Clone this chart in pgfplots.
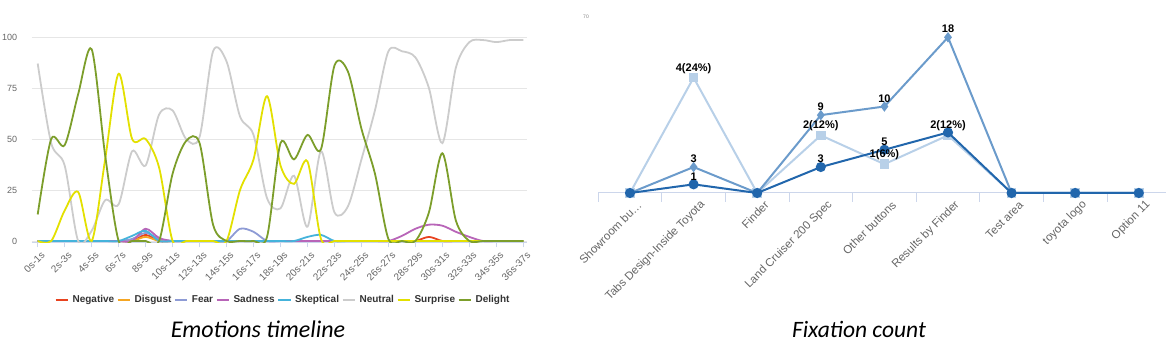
\documentclass[border=0pt]{standalone}
\usepackage{pgfplots}
\pgfplotsset{compat=1.18}
\usepackage{pgfplotstable}
\usepackage{fontspec}
\setmainfont{Liberation Sans}
\newfontfamily\carlito{Carlito}

\definecolor{cNeg}{HTML}{E8431F}
\definecolor{cDis}{HTML}{F5A623}
\definecolor{cFear}{HTML}{8E9BD5}
\definecolor{cSad}{HTML}{B865B8}
\definecolor{cSkep}{HTML}{45B3DB}
\definecolor{cNeu}{HTML}{CCCCCC}
\definecolor{cSur}{HTML}{E3E000}
\definecolor{cDel}{HTML}{7C9E2B}
\definecolor{axisc}{HTML}{CCD6EB}
\definecolor{gridc}{HTML}{E6E6E6}
\definecolor{lab}{HTML}{666666}
\definecolor{fLight}{HTML}{B8D0E8}
\definecolor{fMed}{HTML}{6B9BCB}
\definecolor{fDark}{HTML}{2166AC}

\pgfplotstableread{
t neg dis fear sad skep neu sur del
0 0 0 0 0 0 87 0 13
1 0 0 0 0 0 48 0 50
2 0 0 0 0 0 37 15 47
3 0 0 0 0 0 0 24 72
4 0 0 0 0 0 5 0 94
5 0 0 0 0 0 20 40 42
6 0 0 0 0 0 18 82 0
7 0 0 1 0 2.5 44 50 0
8 3 2 4 6 5 37 50 0
9 0 0 1 1.5 0 62 36 0
10 0 0 0 0 0 64 0 33
11 0 0 0 0 0 50 0 49
12 0 0 0 0 0 51 0 48
13 0 0 0 0 0 93 0 8
14 0 0 0 0 0 88 0 0
15 0 0 6 0 0 61 25 0
16 0 0 4.5 0 0 52 40 0
17 0 0 0 0 0 21 71 2
18 0 0 0 0 0 16 37 48
19 0 0 0 0 0 32 28 40
20 0 0 0 0 2 7 39 52
21 0 0 0 0 3 44 1 45
22 0 0 0 0 0 14 0 86
23 0 0 0 0 0 17 0 83
24 0 0 0 0 0 40 0 55
25 0 0 0 0 0 64 0 33
26 0 0 0 0 0 93 0 1
27 0 0 0 2.5 0 93 0 0
28 0 0 0 6 0 90 0 0
29 2 0 0 8 0 75 0 14
30 0 0 0 7.5 0 48 0 43
31 0 0 0 4.5 0 85 0 10
32 0 0 0 2 0 97.5 0 0
33 0 0 0 0 0 98.5 0 0
34 0 0 0 0 0 97.5 0 0
35 0 0 0 0 0 98.5 0 0
36 0 0 0 0 0 98.5 0 0
}\emo

\pgfplotstableread{
c light med dark
0 0 0 0
1 4 3 1
2 0 0 0
3 2 9 3
4 1 10 5
5 2 18 7
6 0 0 0
7 0 0 0
8 0 0 0
}\fix

\begin{document}
\begin{tikzpicture}
\useasboundingbox (0,0) rectangle (1167pt,355pt);

% ---------------- Emotions timeline ----------------
\begin{axis}[
  at={(31.7pt,112.57pt)}, anchor=south west,
  scale only axis, width=495pt, height=205.43pt,
  xmin=-0.445, xmax=36.25, ymin=-0.7, ymax=100,
  axis lines*=left,
  x axis line style={axisc, line width=0.9pt, -},
  y axis line style={draw=none},
  ytick={0,25,50,75,100},
  ytick style={draw=none},
  ymajorgrids, grid style={gridc, line width=0.8pt},
  xtick={0,2,...,36},
  xticklabels={0s-1s,2s-3s,4s-5s,6s-7s,8s-9s,10s-11s,12s-13s,14s-15s,16s-17s,18s-19s,20s-21s,22s-23s,24s-25s,26s-27s,28s-29s,30s-31s,32s-33s,34s-35s,36s-37s},
  xtick style={axisc, line width=0.9pt},
  tick align=outside, major tick length=5pt,
  /pgf/number format/assume math mode=true,
  yticklabel style={font=\fontsize{9}{10}\selectfont, text=lab, xshift=-6pt},
  xticklabel style={rotate=45, anchor=east, font=\fontsize{10}{12}\selectfont, text=lab, xshift=3pt, yshift=-8pt},
  legend style={draw=none, fill=none, at={(0.5057,-0.28)}, anchor=center,
    legend columns=8, font=\bfseries\fontsize{10}{11}\selectfont, text=black!80,
    /tikz/every even column/.append style={column sep=2.5pt},
    /tikz/every odd column/.append style={column sep=3.5pt},
    nodes={inner sep=0pt}},
  legend image code/.code={\draw[#1, line width=2pt] (0pt,0pt) -- (12.5pt,0pt);},
  every axis plot/.append style={line width=1.8pt, smooth, mark=none},
]
\addplot[cNeg] table[x=t,y=neg]{\emo}; \addlegendentry{Negative}
\addplot[cDis] table[x=t,y=dis]{\emo}; \addlegendentry{Disgust}
\addplot[cFear] table[x=t,y=fear]{\emo}; \addlegendentry{Fear}
\addplot[cSad] table[x=t,y=sad]{\emo}; \addlegendentry{Sadness}
\addplot[cSkep] table[x=t,y=skep]{\emo}; \addlegendentry{Skeptical}
\addplot[cNeu] table[x=t,y=neu]{\emo}; \addlegendentry{Neutral}
\addplot[cSur] table[x=t,y=sur]{\emo}; \addlegendentry{Surprise}
\addplot[cDel] table[x=t,y=del]{\emo}; \addlegendentry{Delight}
\end{axis}

% ---------------- Fixation count ----------------
\begin{axis}[
  at={(598.2pt,162pt)}, anchor=south west,
  scale only axis, width=567.3pt, height=173pt,
  xmin=-0.5, xmax=8.42, ymin=0, ymax=6,
  axis lines=none, clip=false,
]
\addplot[fLight, line width=2pt, mark=square*, mark size=3.8pt] table[x=c,y=light]{\fix};
\end{axis}

\begin{axis}[
  at={(598.2pt,162pt)}, anchor=south west,
  scale only axis, width=567.3pt, height=173pt,
  xmin=-0.5, xmax=8.42, ymin=0, ymax=20,
  clip=false,
  axis x line*=bottom, axis y line=none,
  x axis line style={axisc, line width=1pt, -},
  xtick={0,1,2,3,4,5,6,7,8},
  xticklabels={{Showroom bu\ldots},{Tabs Design-Inside Toyota},{Finder},{Land Cruiser 200 Spec},{Other buttons},{Results by Finder},{Test area},{toyota logo},{Option 11}},
  major tick length=0pt,
  extra x ticks={-0.5,0.5,1.5,2.5,3.5,4.5,5.5,6.5,7.5},
  extra x tick labels={},
  extra x tick style={major tick length=9pt, tick align=outside, tick style={axisc, line width=1pt}},
  xticklabel style={rotate=45, anchor=east, font=\fontsize{11.5}{13}\selectfont, text=lab, xshift=3pt, yshift=-14pt},
]
\addplot[fMed, line width=2pt, mark=diamond*, mark size=3.6pt] table[x=c,y=med]{\fix};
\addplot[fDark, line width=2pt, mark=*, mark size=4pt] table[x=c,y=dark]{\fix};
\addplot[draw=none, mark=none, nodes near coords, point meta=explicit symbolic,
  nodes near coords style={font=\bfseries\fontsize{11}{12}\selectfont, text=black, anchor=south, inner sep=1pt, yshift=3pt}]
  coordinates {(1,3)[3] (3,9)[9] (4,10)[10] (5,18)[18] (1,1)[1] (3,3)[3] (4,5)[5]};
\end{axis}

\begin{axis}[
  at={(598.2pt,162pt)}, anchor=south west,
  scale only axis, width=567.3pt, height=173pt,
  xmin=-0.5, xmax=8.42, ymin=0, ymax=6,
  axis lines=none, clip=false,
]
\addplot[draw=none, mark=none, nodes near coords, point meta=explicit symbolic,
  nodes near coords style={font=\bfseries\fontsize{11}{12}\selectfont, text=black, anchor=south, inner sep=1pt, yshift=3pt}]
  coordinates {(1,4)[4(24\%)] (3,2)[2(12\%)] (4,1)[1(6\%)] (5,2)[2(12\%)]};
\end{axis}

\node[font=\fontsize{5}{5}\selectfont, text=gray, anchor=center] at (586pt,338pt) {70};
\node[font=\carlito\itshape\fontsize{24}{26}\selectfont, anchor=base] at (258pt,17pt) {Emotions timeline};
\node[font=\carlito\itshape\fontsize{23.5}{26}\selectfont, anchor=base] at (859pt,17pt) {Fixation count};
\end{tikzpicture}
\end{document}
